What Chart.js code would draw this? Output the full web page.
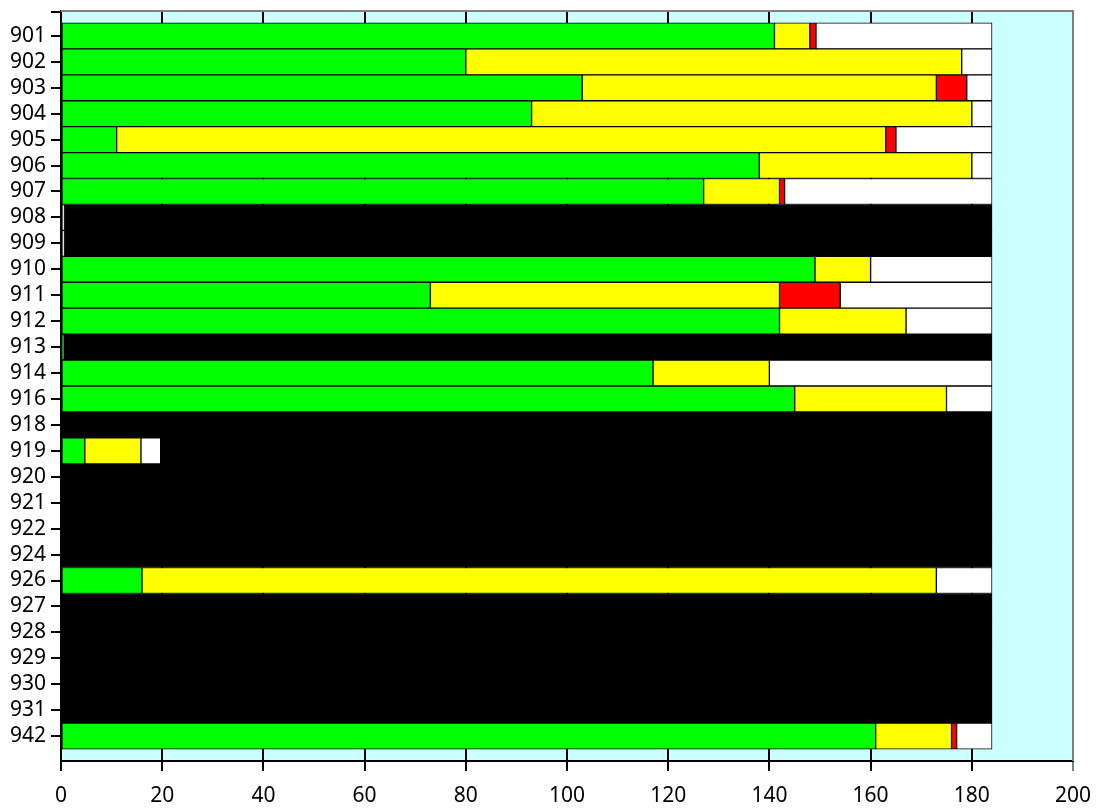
<!DOCTYPE html>
<html lang="en">
<head>
  <meta charset="UTF-8" />
  <title>Stacked bars</title>
  <script src="https://cdn.jsdelivr.net/npm/chart.js"></script>
  <style>
    html, body { margin: 0; padding: 0; background: #ffffff; }
    #chart { display: block; }
  </style>
</head>
<body>
  <canvas id="chart" width="1096" height="812"></canvas>

  <script>
    // row labels, top to bottom
    const categories = ['901', '902', '903', '904', '905', '906', '907', '908', '909', '910',
      '911', '912', '913', '914', '916', '918', '919', '920', '921', '922',
      '924', '926', '927', '928', '929', '930', '931', '942'];

    // segment values per row (stacked left to right)
    const greenValues  = [141, 80, 103, 93, 11, 138, 127, 0, 0, 149, 73, 142, 0.6, 117, 145, 0, 4.7, 0, 0, 0, 0, 16, 0, 0, 0, 0, 0, 161];
    const yellowValues = [7, 98, 70, 87, 152, 42, 15, 0, 0, 11, 69, 25, 0, 23, 30, 0, 11.1, 0, 0, 0, 0, 157, 0, 0, 0, 0, 0, 15];
    const redValues    = [1.2, 0, 6, 0, 2, 0, 1, 0, 0, 0, 12, 0, 0, 0, 0, 0, 0, 0, 0, 0, 0, 0, 0, 0, 0, 0, 0, 1];
    const whiteValues  = [34.8, 6, 5, 4, 19, 4, 41, 0.7, 0.7, 24, 30, 17, 0, 44, 9, 0, 3.9, 0, 0, 0, 0, 11, 0, 0, 0, 0, 0, 7];
    const blackValues  = [0, 0, 0, 0, 0, 0, 0, 183.3, 183.3, 0, 0, 0, 183.4, 0, 0, 184, 164.3, 184, 184, 184, 184, 0, 184, 184, 184, 184, 184, 0];

    // x axis ticks
    const xTicks = [0, 20, 40, 60, 80, 100, 120, 140, 160, 180, 200];

    const fontSpec = { family: "'Noto Sans', sans-serif", size: 21 };

    // turn each list into points on a linear row axis
    function toPoints(values) {
      return values.map((v, i) => ({ x: v, y: i }));
    }

    function series(label, values, color) {
      return {
        label: label,
        data: toPoints(values),
        backgroundColor: color,
        borderColor: '#000000',
        borderWidth: 1,
        borderSkipped: false,
        barPercentage: 1,
        categoryPercentage: 1
      };
    }

    // cyan plot background, grey top/right frame, top tick on the row axis
    const plotFrame = {
      id: 'plotFrame',
      beforeDraw(chart) {
        const a = chart.chartArea;
        const ctx = chart.ctx;
        ctx.save();
        ctx.fillStyle = '#ccffff';
        ctx.fillRect(a.left, a.top, a.right - a.left, a.bottom - a.top);
        ctx.restore();
      },
      afterDraw(chart) {
        const a = chart.chartArea;
        const ctx = chart.ctx;
        ctx.save();
        ctx.strokeStyle = '#808080';
        ctx.lineWidth = 2;
        ctx.beginPath();
        ctx.moveTo(a.left, a.top);
        ctx.lineTo(a.right, a.top);
        ctx.lineTo(a.right, a.bottom);
        ctx.stroke();
        ctx.strokeStyle = '#000000';
        ctx.beginPath();
        ctx.moveTo(a.left - 10, a.top + 1);
        ctx.lineTo(a.left, a.top + 1);
        ctx.stroke();
        ctx.restore();
      }
    };

    new Chart(document.getElementById('chart'), {
      type: 'bar',
      data: {
        datasets: [
          series('green', greenValues, '#00ff00'),
          series('yellow', yellowValues, '#ffff00'),
          series('red', redValues, '#ff0000'),
          series('white', whiteValues, '#ffffff'),
          series('black', blackValues, '#000000')
        ]
      },
      options: {
        indexAxis: 'y',
        responsive: false,
        animation: false,
        layout: { padding: { top: 11, right: 23, left: 0, bottom: 0 } },
        plugins: {
          legend: { display: false },
          tooltip: { enabled: false }
        },
        scales: {
          x: {
            type: 'linear',
            stacked: true,
            min: 0,
            max: 200,
            afterBuildTicks(scale) {
              scale.ticks = xTicks.map(v => ({ value: v }));
            },
            afterFit(scale) {
              scale.height = 51;
              scale.paddingLeft = 0;
              scale.paddingRight = 0;
            },
            grid: {
              color: ctx => (ctx.tick && ctx.tick.value === 200) ? '#808080' : '#000000',
              lineWidth: 2,
              drawOnChartArea: true,
              drawTicks: true,
              tickLength: 10
            },
            border: { display: true, color: '#000000', width: 2 },
            ticks: {
              color: '#000000',
              font: fontSpec,
              padding: 12,
              maxRotation: 0
            }
          },
          y: {
            type: 'linear',
            stacked: true,
            reverse: true,
            offset: false,
            min: -0.96,
            max: 27.96,
            afterFit(scale) {
              scale.width = 61;
              scale.paddingTop = 0;
              scale.paddingBottom = 0;
            },
            grid: {
              offset: false,
              drawOnChartArea: false,
              drawTicks: true,
              tickLength: 10,
              color: '#000000',
              lineWidth: 2
            },
            border: { display: true, color: '#000000', width: 2 },
            ticks: {
              stepSize: 1,
              includeBounds: false,
              autoSkip: false,
              color: '#000000',
              font: fontSpec,
              padding: 5,
              callback: v => Number.isInteger(v) ? categories[v] : ''
            }
          }
        }
      },
      plugins: [plotFrame]
    });
  </script>
</body>
</html>
